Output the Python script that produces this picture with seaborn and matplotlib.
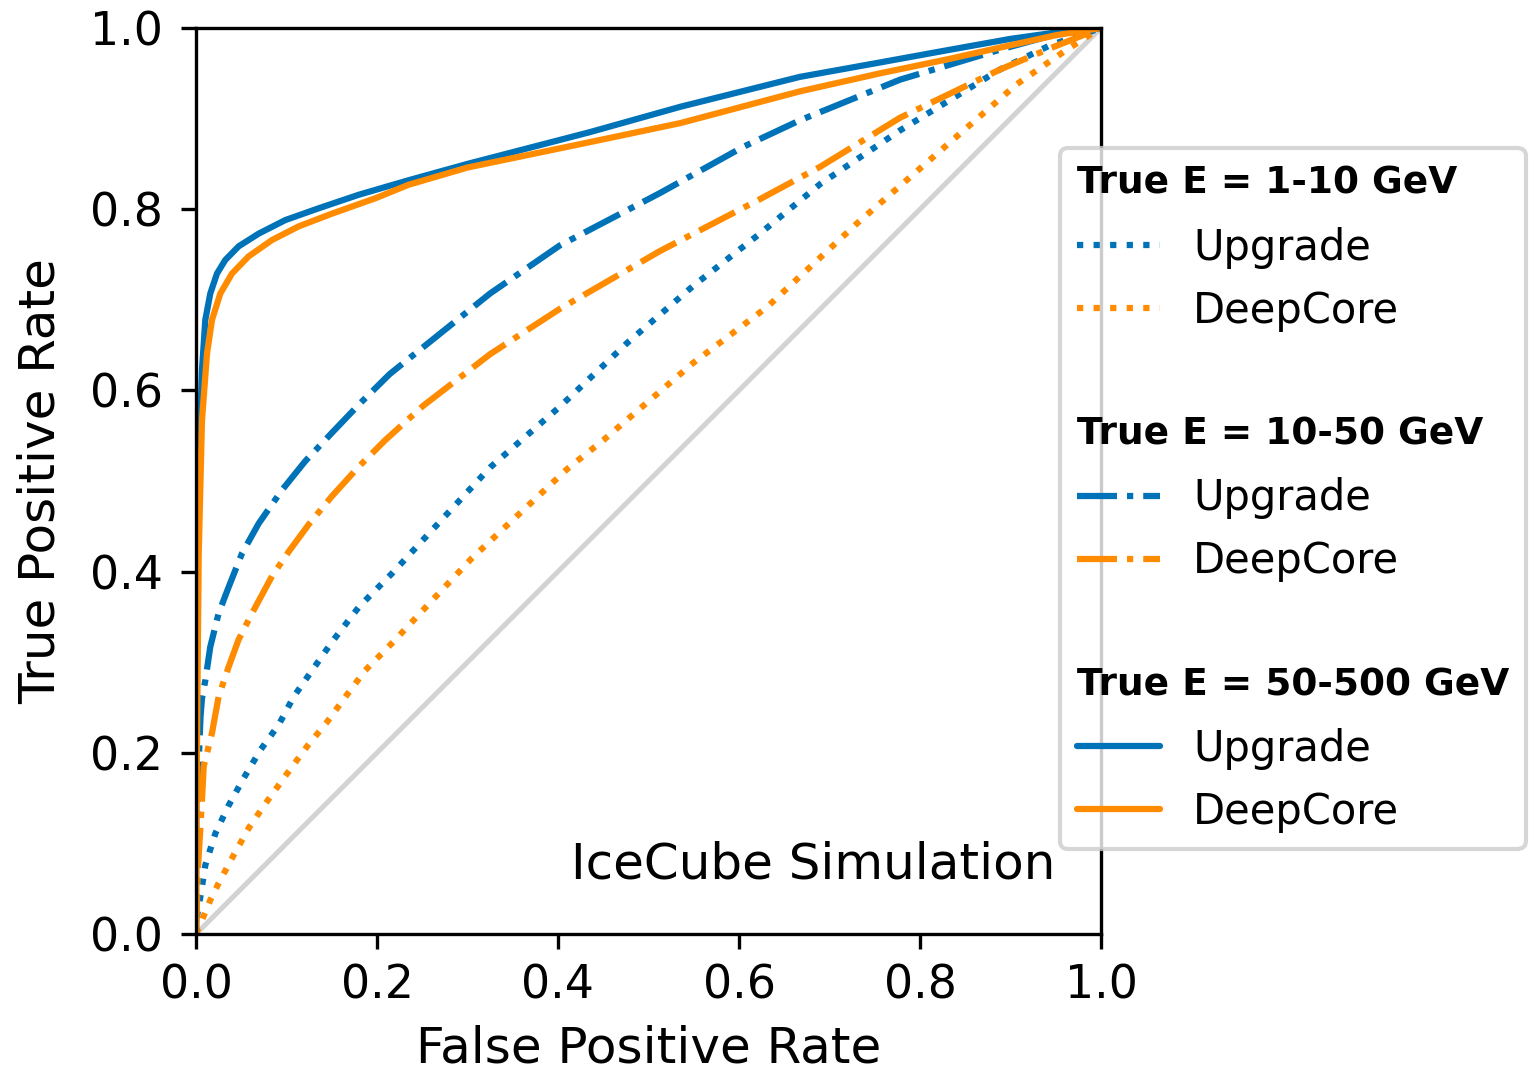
import numpy as np
import pandas as pd
import matplotlib
matplotlib.use("Agg")
import matplotlib.pyplot as plt
import seaborn as sns
from matplotlib.lines import Line2D

# ---- data ----
fpr_1_10_up = [0, 0.001, 0.0048, 0.0103, 0.0214, 0.0361, 0.0527, 0.0711, 0.0914, 0.108, 0.150, 0.180, 0.2166, 0.325, 0.402, 0.476, 0.549, 0.623, 0.690, 0.778, 0.888, 0.944, 1.0]
tpr_1_10_up = [0, 0.019, 0.041, 0.076, 0.111, 0.142, 0.172, 0.203, 0.231, 0.262, 0.322, 0.361, 0.398, 0.515, 0.582, 0.652, 0.715, 0.773, 0.828, 0.887, 0.954, 0.981, 1.0]

fpr_1_10_dc = [0, 0.0085, 0.0158, 0.025, 0.0416, 0.0589, 0.0796, 0.1006, 0.1227, 0.1448, 0.166, 0.187, 0.2166, 0.305, 0.411, 0.450, 0.549, 0.631, 0.730, 0.815, 0.907, 0.962, 1.0]
tpr_1_10_dc = [0, 0.020, 0.0375, 0.056, 0.087, 0.118, 0.148, 0.177, 0.207, 0.234, 0.263, 0.291, 0.321, 0.415, 0.514, 0.545, 0.630, 0.692, 0.784, 0.858, 0.938, 0.976, 1.0]

fpr_10_50_up = [0, 0.001, 0.003, 0.005, 0.0066, 0.0103, 0.0158, 0.025, 0.0361, 0.0508, 0.0692, 0.095, 0.1208, 0.150, 0.1816, 0.214, 0.325, 0.402, 0.513, 0.605, 0.667, 0.778, 0.888, 0.95, 1.0]
tpr_10_50_up = [0, 0.10, 0.19, 0.24, 0.260, 0.280, 0.317, 0.354, 0.383, 0.420, 0.453, 0.490, 0.522, 0.553, 0.586, 0.618, 0.707, 0.760, 0.818, 0.869, 0.898, 0.943, 0.976, 0.993, 1.0]

fpr_10_50_dc = [0, 0.002, 0.005, 0.0066, 0.0085, 0.0177, 0.025, 0.0361, 0.0471, 0.0619, 0.084, 0.1024, 0.1245, 0.150, 0.180, 0.209, 0.251, 0.325, 0.402, 0.513, 0.623, 0.690, 0.778, 0.888, 0.94, 1.0]
tpr_10_50_dc = [0, 0.07, 0.12, 0.148, 0.185, 0.222, 0.262, 0.295, 0.325, 0.354, 0.395, 0.422, 0.452, 0.483, 0.516, 0.545, 0.583, 0.640, 0.690, 0.754, 0.811, 0.847, 0.901, 0.954, 0.976, 1.0]

fpr_50_500_up = [0, 0.0005, 0.002, 0.0048, 0.0066, 0.0103, 0.0158, 0.0232, 0.0324, 0.0471, 0.0692, 0.0987, 0.1355, 0.180, 0.235, 0.30, 0.435, 0.535, 0.667, 0.756, 0.833, 0.90, 0.95, 1.0]
tpr_50_500_up = [0, 0.25, 0.45, 0.567, 0.6225, 0.678, 0.707, 0.729, 0.744, 0.759, 0.773, 0.788, 0.801, 0.816, 0.832, 0.850, 0.885, 0.913, 0.946, 0.962, 0.976, 0.988, 0.995, 1.0]

fpr_50_500_dc = [0, 0.001, 0.003, 0.0066, 0.0122, 0.0177, 0.0269, 0.0398, 0.0582, 0.084, 0.1134, 0.150, 0.198, 0.235, 0.30, 0.435, 0.535, 0.667, 0.756, 0.833, 0.90, 0.95, 1.0]
tpr_50_500_dc = [0, 0.2, 0.42, 0.567, 0.641, 0.678, 0.707, 0.729, 0.748, 0.766, 0.781, 0.795, 0.812, 0.827, 0.846, 0.874, 0.895, 0.930, 0.950, 0.966, 0.981, 0.992, 1.0]

diag = [0.0, 1.0]

energy_groups = ["True E = 1-10 GeV", "True E = 10-50 GeV", "True E = 50-500 GeV"]
detectors = ["Upgrade", "DeepCore"]
ticks = [0.0, 0.2, 0.4, 0.6, 0.8, 1.0]
tick_labels = ["0.0", "0.2", "0.4", "0.6", "0.8", "1.0"]

BLUE = "#0072b8"
ORANGE = "#ff8c00"

sns.set_style("ticks", {
    "axes.edgecolor": "black",
    "xtick.color": "black",
    "ytick.color": "black",
    "text.color": "black",
    "axes.labelcolor": "black",
})
plt.rcParams["font.family"] = ["DejaVu Sans"]
plt.rcParams["axes.linewidth"] = 0.8
plt.rcParams["xtick.major.width"] = 0.8
plt.rcParams["ytick.major.width"] = 0.8
plt.rcParams["xtick.major.size"] = 3.5
plt.rcParams["ytick.major.size"] = 3.5

fig = plt.figure(figsize=(1534 / 300, 1073 / 300), dpi=300)
ax = fig.add_axes([196 / 1534, 1 - 934 / 1073, 905 / 1534, 906 / 1073])

# diagonal
sns.lineplot(x=diag, y=diag, ax=ax, color="lightgray", lw=1.2, sort=False, estimator=None)

curves = [
    (fpr_1_10_up, tpr_1_10_up, BLUE, ":"),
    (fpr_1_10_dc, tpr_1_10_dc, ORANGE, ":"),
    (fpr_10_50_up, tpr_10_50_up, BLUE, "-."),
    (fpr_10_50_dc, tpr_10_50_dc, ORANGE, "-."),
    (fpr_50_500_up, tpr_50_500_up, BLUE, "-"),
    (fpr_50_500_dc, tpr_50_500_dc, ORANGE, "-"),
]
for fx, ty, c, ls in curves:
    sns.lineplot(x=fx, y=ty, ax=ax, color=c, linestyle=ls, lw=1.5, sort=False, estimator=None)

ax.set_xlim(0, 1)
ax.set_ylim(0, 1)
ax.set_xticks(ticks)
ax.set_xticklabels(tick_labels)
ax.set_yticks(ticks)
ax.set_yticklabels(tick_labels)
ax.tick_params(labelsize=11)
ax.tick_params(axis="y", pad=4.5)
ax.set_xlabel("False Positive Rate", fontsize=12)
ax.set_ylabel("True Positive Rate", fontsize=12, labelpad=6)

ax.text(0.95, 0.05, "IceCube Simulation", transform=ax.transAxes, ha="right", va="bottom", fontsize=12)

# legend
handles, labels, title_idx = [], [], []
styles = [":", "-.", "-"]
for gi, (g, ls) in enumerate(zip(energy_groups, styles)):
    if gi > 0:
        handles.append(Line2D([], [], linestyle="none"))
        labels.append(" ")
    title_idx.append(len(handles))
    handles.append(Line2D([], [], linestyle="none"))
    labels.append(g)
    for det, c in zip(detectors, [BLUE, ORANGE]):
        handles.append(Line2D([], [], color=c, linestyle=ls, lw=1.5))
        labels.append(det)

leg = ax.legend(handles, labels, loc="upper left",
                bbox_to_anchor=(1060 / 1534, 1 - 148 / 1073),
                bbox_transform=fig.transFigure, borderaxespad=0,
                fontsize=10, frameon=True)
texts = leg.get_texts()
for i in title_idx:
    texts[i].set_fontweight("bold")
    texts[i].set_fontsize(9)
rows = [r for col in leg._legend_handle_box.get_children() for r in col.get_children()]
for i in title_idx:
    rows[i].sep = 0
    da = rows[i].get_children()[0]
    da.width = 0
    da.height = 9.9
    da.ydescent = 2.9

fig.savefig("out.png", dpi=300)
